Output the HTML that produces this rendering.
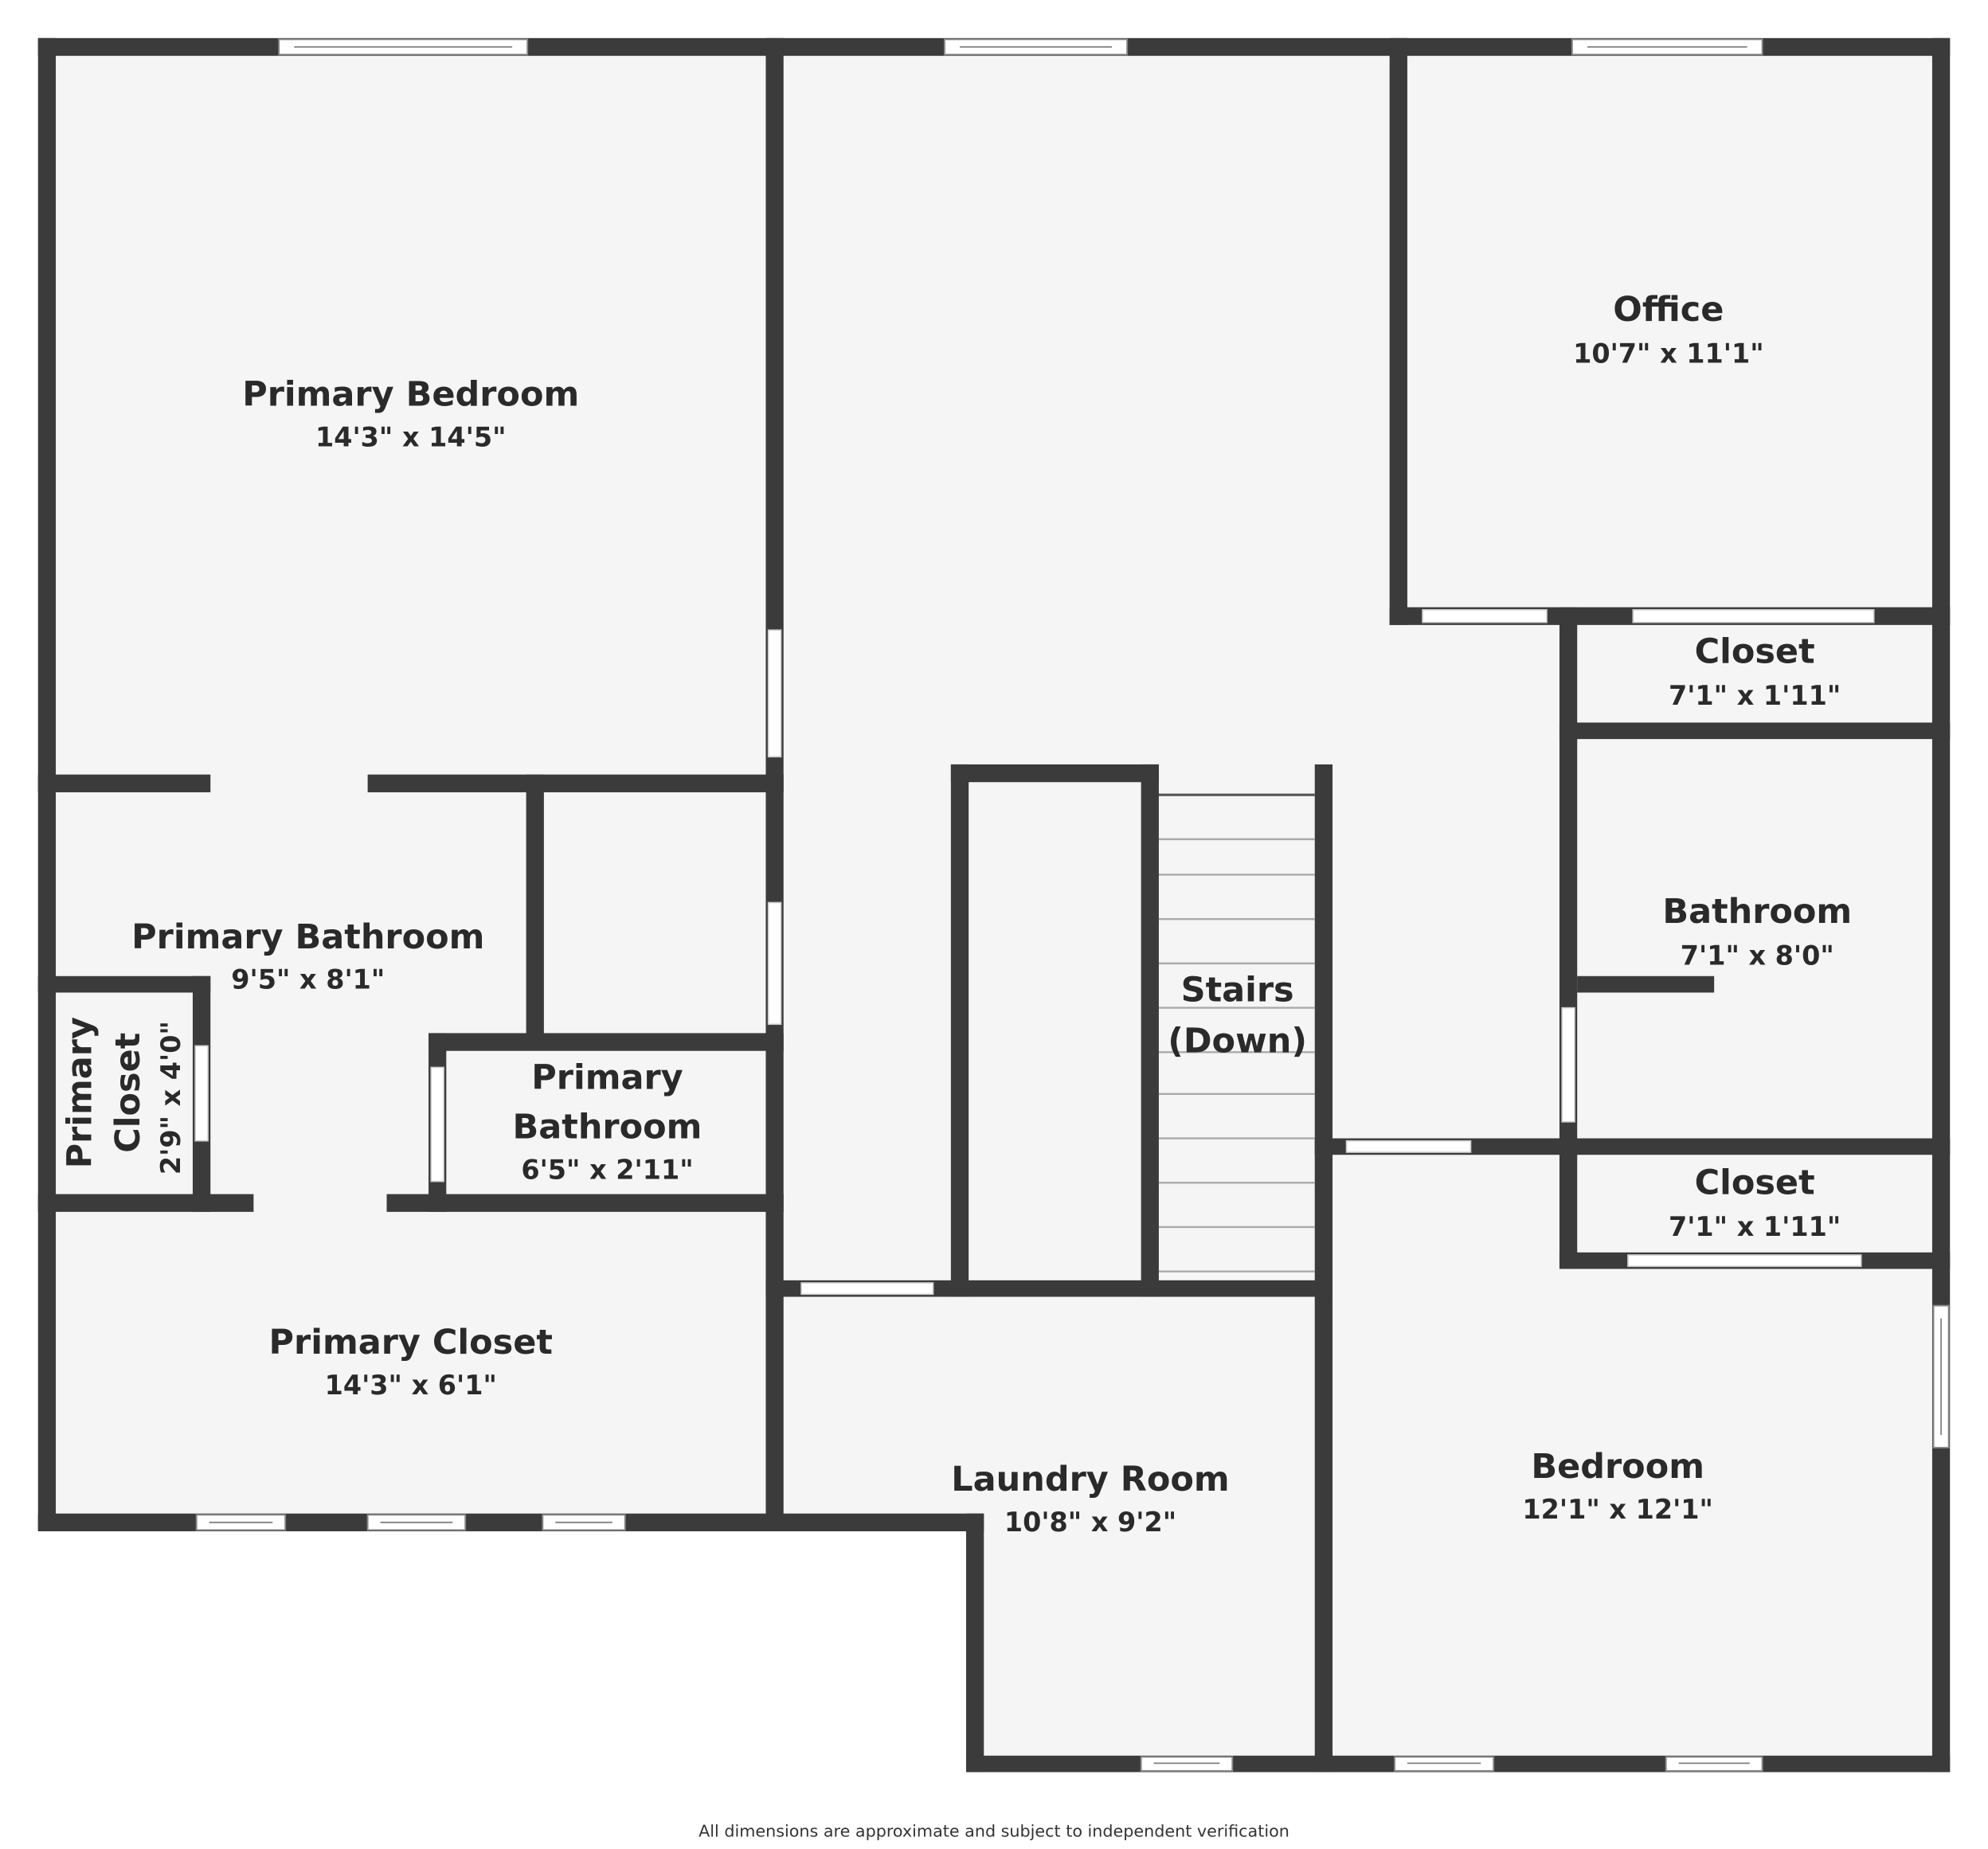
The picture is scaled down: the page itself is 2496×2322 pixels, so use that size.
<!DOCTYPE html>
<html><head><meta charset="utf-8"><style>
html,body{margin:0;padding:0;background:#fff;}
svg{display:block}
.t{font-family:"DejaVu Sans","Liberation Sans",sans-serif;font-weight:bold;fill:#2a2a2a;text-anchor:middle}
.n{font-size:27px}
.d{font-size:21px}
</style></head><body>
<svg width="2496" height="2322" viewBox="0 0 1568 1458.6" xmlns="http://www.w3.org/2000/svg">
<rect width="1568" height="1460" fill="#fff"/>
<!-- floor -->
<polygon points="37,37 1531,37 1531,1392 769,1392 769,1201 37,1201" fill="#f5f5f5"/>
<g fill="#3b3b3b">
<!-- outer -->
<rect x="30" y="30" width="1508" height="14"/>
<rect x="30" y="30" width="14" height="1178"/>
<rect x="1524" y="30" width="14" height="1368"/>
<rect x="30" y="1194" width="746" height="14"/>
<rect x="762" y="1194" width="14" height="204"/>
<rect x="762" y="1385" width="776" height="13"/>
<!-- interior -->
<rect x="604" y="30" width="14" height="1178"/>
<rect x="1096" y="30" width="14" height="463"/>
<rect x="1096" y="479" width="442" height="14"/>
<rect x="1230" y="479" width="14" height="522"/>
<rect x="1230" y="570" width="308" height="13"/>
<rect x="1244" y="770" width="108" height="13"/>
<rect x="1037" y="898" width="501" height="13"/>
<rect x="1230" y="988" width="308" height="13"/>
<rect x="750" y="603" width="164" height="14"/>
<rect x="750" y="603" width="14" height="420"/>
<rect x="900" y="603" width="14" height="420"/>
<rect x="1037" y="603" width="14" height="795"/>
<rect x="604" y="1010" width="447" height="13"/>
<rect x="30" y="611" width="136" height="14"/>
<rect x="290" y="611" width="328" height="14"/>
<rect x="415" y="611" width="14" height="211"/>
<rect x="338" y="815" width="280" height="14"/>
<rect x="338" y="815" width="14" height="141"/>
<rect x="30" y="942" width="170" height="14"/>
<rect x="305" y="942" width="313" height="14"/>
<rect x="30" y="770" width="136" height="13"/>
<rect x="152" y="770" width="14" height="186"/>
</g>
<!-- openings -->
<g fill="#fff" stroke="#ccc" stroke-width="1">
<rect x="606" y="497" width="10" height="100"/>
<rect x="606" y="712" width="10" height="96"/>
<rect x="1122" y="481" width="98" height="10"/>
<rect x="1288" y="481" width="190" height="10"/>
<rect x="1232" y="795" width="10" height="90"/>
<rect x="1062" y="900" width="98" height="9"/>
<rect x="1284" y="990" width="184" height="9"/>
<rect x="632" y="1012" width="104" height="9"/>
<rect x="340" y="842" width="10" height="90"/>
<rect x="154" y="825" width="10" height="75"/>
</g>
<!-- windows -->
<g fill="#fff" stroke="#888" stroke-width="1.2">
<rect x="220" y="31" width="196" height="12"/><line x1="232" y1="37" x2="404" y2="37"/>
<rect x="745" y="31" width="144" height="12"/><line x1="757" y1="37" x2="877" y2="37"/>
<rect x="1240" y="31" width="150" height="12"/><line x1="1252" y1="37" x2="1378" y2="37"/>
<rect x="155" y="1195" width="70" height="12"/><line x1="165" y1="1201" x2="215" y2="1201"/>
<rect x="290" y="1195" width="77" height="12"/><line x1="300" y1="1201" x2="357" y2="1201"/>
<rect x="428" y="1195" width="65" height="12"/><line x1="438" y1="1201" x2="483" y2="1201"/>
<rect x="900" y="1386" width="72" height="11"/><line x1="910" y1="1391" x2="962" y2="1391"/>
<rect x="1100" y="1386" width="78" height="11"/><line x1="1110" y1="1391" x2="1168" y2="1391"/>
<rect x="1314" y="1386" width="76" height="11"/><line x1="1324" y1="1391" x2="1380" y2="1391"/>
<rect x="1525" y="1030" width="12" height="112"/><line x1="1531" y1="1040" x2="1531" y2="1132"/>
</g>
<!-- stairs -->
<g stroke="#aaa" stroke-width="1.5">
<line x1="914" y1="627" x2="1037" y2="627" stroke="#555" stroke-width="2"/>
<line x1="914" y1="662" x2="1037" y2="662"/>
<line x1="914" y1="690" x2="1037" y2="690"/>
<line x1="914" y1="725" x2="1037" y2="725"/>
<line x1="914" y1="760" x2="1037" y2="760"/>
<line x1="914" y1="795" x2="1037" y2="795"/>
<line x1="914" y1="830" x2="1037" y2="830"/>
<line x1="914" y1="863" x2="1037" y2="863"/>
<line x1="914" y1="898" x2="1037" y2="898"/>
<line x1="914" y1="933" x2="1037" y2="933"/>
<line x1="914" y1="968" x2="1037" y2="968"/>
<line x1="914" y1="1003" x2="1037" y2="1003"/>
</g>
<!-- labels -->
<g class="t">
<text class="n" x="324" y="320">Primary Bedroom</text>
<text class="d" x="324" y="352">14'3" x 14'5"</text>
<text class="n" x="1316" y="253">Office</text>
<text class="d" x="1316" y="286">10'7" x 11'1"</text>
<text class="n" x="1384" y="523">Closet</text>
<text class="d" x="1384" y="556">7'1" x 1'11"</text>
<text class="n" x="1386" y="728">Bathroom</text>
<text class="d" x="1386" y="761">7'1" x 8'0"</text>
<text class="n" x="1384" y="942">Closet</text>
<text class="d" x="1384" y="975">7'1" x 1'11"</text>
<text class="n" x="976" y="790">Stairs</text>
<text class="n" x="976" y="830">(Down)</text>
<text class="n" x="243" y="748">Primary Bathroom</text>
<text class="d" x="243" y="780">9'5" x 8'1"</text>
<text class="n" x="479" y="859">Primary</text>
<text class="n" x="479" y="898">Bathroom</text>
<text class="d" x="479" y="930">6'5" x 2'11"</text>
<text class="n" x="324" y="1068">Primary Closet</text>
<text class="d" x="324" y="1100">14'3" x 6'1"</text>
<text class="n" x="860" y="1176">Laundry Room</text>
<text class="d" x="860" y="1208">10'8" x 9'2"</text>
<text class="n" x="1276" y="1166">Bedroom</text>
<text class="d" x="1276" y="1198">12'1" x 12'1"</text>
<text class="n" transform="translate(72,862) rotate(-90)">Primary</text>
<text class="n" transform="translate(110,862) rotate(-90)">Closet</text>
<text class="d" transform="translate(142,866) rotate(-90)">2'9" x 4'0"</text>
</g>
<text x="784" y="1449" font-family="'DejaVu Sans','Liberation Sans',sans-serif" font-size="13" fill="#333" text-anchor="middle">All dimensions are approximate and subject to independent verification</text>
</svg>
</body></html>
